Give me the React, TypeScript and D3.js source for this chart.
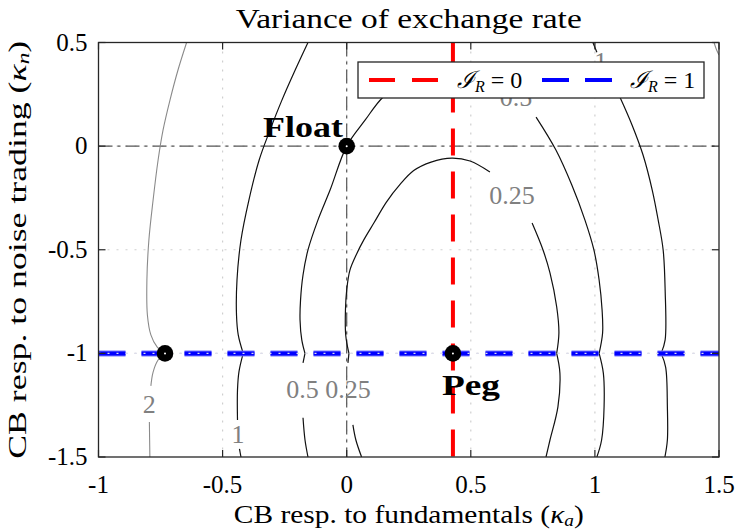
import React from 'react';
import * as d3 from 'd3';

// ---------- data ----------
const xTicks = [-1, -0.5, 0, 0.5, 1, 1.5];
const xTickLabels = ['-1', '-0.5', '0', '0.5', '1', '1.5'];
const yTicks = [-1.5, -1, -0.5, 0, 0.5];
const yTickLabels = ['-1.5', '-1', '-0.5', '0', '0.5'];

const pegKappaA = 0.428; // I_R = 0 line
const pegKappaN = -1; // I_R = 1 line

const points = [
  { name: 'Float', x: 0, y: 0 },
  { name: 'Peg', x: 0.428, y: -1 },
  { name: '', x: -0.732, y: -1 },
];

type P = [number, number];

// contour level 0.25 (segments)
const contour025: P[][] = [
  [[0.06, -1.5], [0.037, -1.418], [0.025, -1.345]],
  [[0.005, -1.046], [0.009, -1.0]],
  [[0.009, -1.0], [-0.004, -0.911], [-0.005, -0.791], [0.0, -0.694], [0.013, -0.598], [0.04, -0.52], [0.07, -0.45],
   [0.11, -0.37], [0.16, -0.27], [0.215, -0.185], [0.27, -0.118], [0.34, -0.077], [0.424, -0.058], [0.497, -0.072], [0.577, -0.125]],
  [[0.747, -0.371], [0.791, -0.501], [0.819, -0.612], [0.846, -0.775], [0.855, -0.902], [0.846, -1.0]],
  [[0.846, -1.0], [0.859, -1.095], [0.851, -1.258], [0.819, -1.418], [0.803, -1.5]],
];

// contour level 0.5
const contour05: P[][] = [
  [[-0.156, -1.5], [-0.168, -1.418], [-0.176, -1.311]],
  [[-0.176, -1.046], [-0.168, -1.0]],
  [[-0.168, -1.0], [-0.181, -0.935], [-0.188, -0.839], [-0.186, -0.743], [-0.176, -0.622], [-0.156, -0.501], [-0.116, -0.357],
   [-0.067, -0.212], [0.0, 0.0], [0.074, 0.125], [0.146, 0.236], [0.235, 0.309], [0.336, 0.357], [0.436, 0.381], [0.529, 0.357], [0.61, 0.299]],
  [[0.763, 0.14], [0.843, -0.019], [0.907, -0.188], [0.96, -0.357], [0.996, -0.501], [1.017, -0.646], [1.029, -0.791], [1.031, -0.902], [1.017, -1.0]],
  [[1.017, -1.0], [1.034, -1.095], [1.037, -1.258], [1.027, -1.418], [1.008, -1.5]],
];

// contour level 1
const contour1: P[][] = [
  [[-0.156, 0.5], [-0.208, 0.366], [-0.261, 0.222], [-0.309, 0.077], [-0.353, -0.068], [-0.394, -0.26], [-0.426, -0.453],
   [-0.442, -0.646], [-0.444, -0.815], [-0.437, -0.911], [-0.417, -1.0]],
  [[-0.417, -1.0], [-0.434, -1.088], [-0.44, -1.176], [-0.44, -1.321]],
  [[-0.432, -1.461], [-0.426, -1.5]],
  [[0.992, 0.5], [1.008, 0.453]],
  [[1.045, 0.376], [1.101, 0.236], [1.15, 0.101], [1.194, -0.043], [1.231, -0.212], [1.255, -0.357], [1.275, -0.501],
   [1.283, -0.694], [1.283, -0.935], [1.267, -1.0]],
  [[1.267, -1.0], [1.285, -1.066], [1.292, -1.258], [1.292, -1.418], [1.282, -1.5]],
];

// contour level 2
const contour2: P[][] = [
  [[-0.645, 0.5], [-0.68, 0.366], [-0.712, 0.222], [-0.74, 0.077], [-0.76, -0.068], [-0.78, -0.26], [-0.797, -0.453],
   [-0.805, -0.646], [-0.803, -0.815], [-0.789, -0.911], [-0.764, -0.969], [-0.732, -1.0]],
  [[-0.732, -1.0], [-0.76, -1.032], [-0.78, -1.09], [-0.789, -1.157]],
  [[-0.795, -1.331], [-0.794, -1.418], [-0.793, -1.5]],
  [[1.48, 0.5], [1.49, 0.465], [1.5, 0.44]],
];

const contourLabels = [
  { text: '0.25', x: 0.666, y: -0.236 },
  { text: '0.5', x: 0.682, y: 0.236 },
  { text: '1', x: 1.024, y: 0.41 },
  { text: '2', x: -0.796, y: -1.244 },
  { text: '1', x: -0.438, y: -1.389 },
  { text: '0.5', x: -0.178, y: -1.172 },
  { text: '0.25', x: 0.005, y: -1.172 },
];

// ---------- layout ----------
const W = 738;
const H = 530;
const L = 98.5, R = 719, T = 42.5, B = 457;
const FONT = '"Liberation Serif", "DejaVu Serif", serif';
const AXIS = '#262626';

export default function App() {
  const x = d3.scaleLinear().domain([-1, 1.5]).range([L, R]);
  const y = d3.scaleLinear().domain([-1.5, 0.5]).range([B, T]);
  const line = d3
    .line<P>()
    .x((d) => x(d[0]))
    .y((d) => y(d[1]))
    .curve(d3.curveCatmullRom.alpha(0.5));

  const contourSets = [
    { segs: contour025, color: '#111', w: 1.2 },
    { segs: contour05, color: '#111', w: 1.2 },
    { segs: contour1, color: '#111', w: 1.2 },
    { segs: contour2, color: '#8a8a8a', w: 1.1 },
  ];

  return (
    <svg width={W} height={H} style={{ position: 'absolute', left: 0, top: 0, background: '#fff' }} fontFamily={FONT}>
      <defs>
        <clipPath id="plotclip">
          <rect x={L} y={T} width={R - L} height={B - T} />
        </clipPath>
      </defs>
      <rect x={0} y={0} width={W} height={H} fill="#fff" />

      {/* grid */}
      <g stroke="#cfcfcf" strokeWidth={1.2} strokeDasharray="2 7">
        {xTicks.slice(1, -1).map((t) => (
          <line key={'gx' + t} x1={x(t)} x2={x(t)} y1={T} y2={B} />
        ))}
        {yTicks.slice(1, -1).map((t) => (
          <line key={'gy' + t} x1={L} x2={R} y1={y(t)} y2={y(t)} />
        ))}
      </g>
      {/* zero lines dash-dot */}
      <g stroke="#555" strokeWidth={1.2} strokeDasharray="14 5 3 5">
        <line x1={x(0)} x2={x(0)} y1={T} y2={B} />
        <line x1={L} x2={R} y1={y(0)} y2={y(0)} />
      </g>

      {/* contours */}
      <g clipPath="url(#plotclip)" fill="none">
        {contourSets.map((c, i) =>
          c.segs.map((s, j) => (
            <path key={`c${i}-${j}`} d={line(s) || ''} stroke={c.color} strokeWidth={c.w} />
          ))
        )}
      </g>
      <g fill="#808080" fontSize={26} textAnchor="middle">
        {contourLabels.map((l, i) => (
          <text key={'cl' + i} x={x(l.x)} y={y(l.y) + 9}>
            {l.text}
          </text>
        ))}
      </g>

      {/* I_R = 0 red vertical */}
      <line x1={x(pegKappaA)} x2={x(pegKappaA)} y1={T} y2={B} stroke="#ff0000" strokeWidth={4} strokeDasharray="27 16" />
      {/* I_R = 1 blue horizontal */}
      <line x1={L} x2={R} y1={y(pegKappaN)} y2={y(pegKappaN)} stroke="#7777ff" strokeWidth={6} strokeDasharray="27 16" />
      <line x1={L} x2={R} y1={y(pegKappaN)} y2={y(pegKappaN)} stroke="#0000ff" strokeWidth={4} strokeDasharray="27 16" />
      <line x1={L} x2={R} y1={y(pegKappaN)} y2={y(pegKappaN)} stroke="#dcdcec" strokeWidth={1.3} strokeDasharray="2 7" />

      {/* points */}
      {points.map((p, i) => (
        <g key={'p' + i}>
          <circle cx={x(p.x)} cy={y(p.y)} r={8.3} fill="#000" />
          <circle cx={x(p.x)} cy={y(p.y)} r={1} fill="#fff" />
        </g>
      ))}
      <text x={x(-0.337)} y={y(0.043)} fontSize={29} fontWeight="bold" fill="#000" textLength={80} lengthAdjust="spacingAndGlyphs">
        Float
      </text>
      <text x={x(0.384)} y={y(-1.2)} fontSize={29} fontWeight="bold" fill="#000" textLength={58} lengthAdjust="spacingAndGlyphs">
        Peg
      </text>

      {/* axes box */}
      <rect x={L} y={T} width={R - L} height={B - T} fill="none" stroke={AXIS} strokeWidth={1.3} />
      <g stroke={AXIS} strokeWidth={1.2}>
        {xTicks.map((t) => (
          <g key={'tx' + t}>
            <line x1={x(t)} x2={x(t)} y1={B} y2={B - 7} />
            <line x1={x(t)} x2={x(t)} y1={T} y2={T + 7} />
          </g>
        ))}
        {yTicks.map((t) => (
          <g key={'ty' + t}>
            <line x1={L} x2={L + 7} y1={y(t)} y2={y(t)} />
            <line x1={R} x2={R - 7} y1={y(t)} y2={y(t)} />
          </g>
        ))}
      </g>
      <g fontSize={25} fill="#000">
        {xTicks.map((t, i) => (
          <text key={'xl' + t} x={x(t)} y={B + 36} textAnchor="middle">
            {xTickLabels[i]}
          </text>
        ))}
        {yTicks.map((t, i) => (
          <text key={'yl' + t} x={L - 11} y={y(t) + 8} textAnchor="end">
            {yTickLabels[i]}
          </text>
        ))}
      </g>

      {/* legend */}
      <g>
        <rect x={358} y={62} width={346} height={36} fill="#fff" stroke={AXIS} strokeWidth={1.3} />
        <line x1={369} x2={439} y1={80} y2={80} stroke="#ff0000" strokeWidth={4} strokeDasharray="26 17" />
        <text x={457} y={88} fontSize={24} fill="#000">
          <tspan fontStyle="italic">ℐ</tspan>
          <tspan fontStyle="italic" fontSize={16} dy={4}>R</tspan>
          <tspan dy={-4}> = 0</tspan>
        </text>
        <line x1={542} x2={612} y1={80} y2={80} stroke="#0000ff" strokeWidth={4} strokeDasharray="27 16" />
        <text x={630} y={88} fontSize={24} fill="#000">
          <tspan fontStyle="italic">ℐ</tspan>
          <tspan fontStyle="italic" fontSize={16} dy={4}>R</tspan>
          <tspan dy={-4}> = 1</tspan>
        </text>
      </g>

      {/* titles */}
      <text x={(L + R) / 2} y={28} textAnchor="middle" fontSize={28} fill="#000" textLength={346} lengthAdjust="spacingAndGlyphs">
        Variance of exchange rate
      </text>
      <text x={(L + R) / 2} y={523} textAnchor="middle" fontSize={26} fill="#000" textLength={350} lengthAdjust="spacingAndGlyphs">
        CB resp. to fundamentals (<tspan fontStyle="italic">κ</tspan>
        <tspan fontStyle="italic" fontSize={17} dy={3}>a</tspan>
        <tspan dy={-3}>)</tspan>
      </text>
      <text transform={`translate(26, ${(T + B) / 2}) rotate(-90)`} textAnchor="middle" fontSize={26} fill="#000" textLength={418} lengthAdjust="spacingAndGlyphs">
        CB resp. to noise trading (<tspan fontStyle="italic">κ</tspan>
        <tspan fontStyle="italic" fontSize={17} dy={3}>n</tspan>
        <tspan dy={-3}>)</tspan>
      </text>
    </svg>
  );
}
